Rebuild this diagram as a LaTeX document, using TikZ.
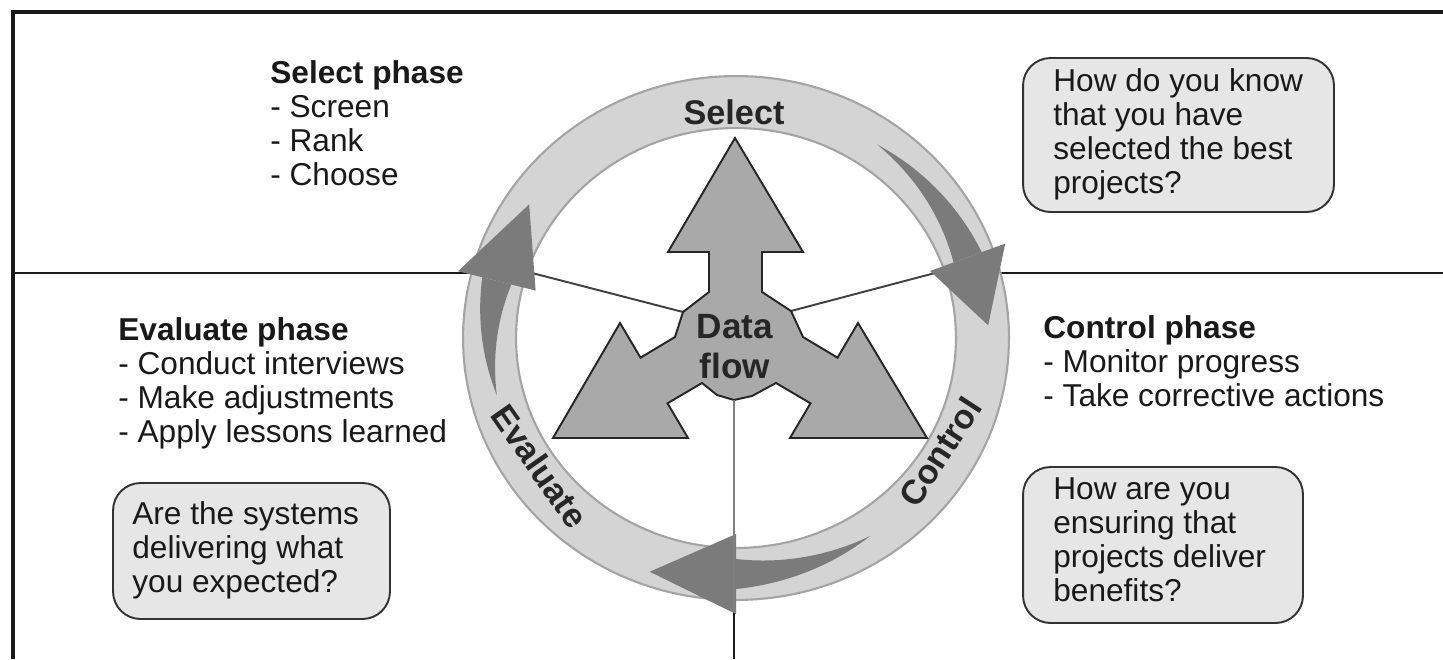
\documentclass[tikz,border=0pt]{standalone}
\usepackage{fontspec}
\setmainfont{Liberation Sans}
\definecolor{ringfill}{HTML}{D4D4D4}
\definecolor{ringedge}{HTML}{A4A4A4}
\definecolor{arrowfill}{HTML}{7B7B7B}
\definecolor{hubfill}{HTML}{A9A9A9}
\definecolor{boxfill}{HTML}{E6E6E6}
\begin{document}
\begin{tikzpicture}[x=0.02cm,y=-0.02cm,
  frameline/.style={line width=1.9pt, black!90},
  divline/.style={line width=1.5pt, black!90},
  spoke/.style={line width=1.1pt, black!75},
  greyline/.style={line width=1.2pt, black!50},
  ringarrow/.style={fill=arrowfill},
  ringlabel/.style={font=\fontsize{19.5}{21}\selectfont\bfseries, text=black!85, inner sep=0},
  hubtext/.style={font=\fontsize{20}{22.7}\selectfont\bfseries, text=black!85, align=center, inner sep=0},
  phasetext/.style={font=\fontsize{18}{19.35}\selectfont, align=left, anchor=north west, inner sep=0, text=black!90},
  qbox/.style={draw=black!80, line width=1.1pt, fill=boxfill, rounded corners=0.55cm, inner sep=0},
  hub/.style={draw=black!85, line width=1.1pt, fill=hubfill, line join=miter}
]
\useasboundingbox (0,0) rectangle (1443,659);

% frame
\coordinate (fbl) at (13,659);
\coordinate (ftl) at (13,12);
\coordinate (ftr) at (1443,12);
\draw[frameline] (fbl) -- (ftl) -- (ftr);

% dividing lines and spokes
\coordinate (hlL) at (13,273);
\coordinate (hlLe) at (532,273);
\coordinate (hlR) at (1443,273);
\coordinate (hlRe) at (935,273);
\coordinate (hubL) at (683,312);
\coordinate (hubR) at (791,311);
\draw[divline] (hlL) -- (hlLe);
\draw[divline] (hlR) -- (hlRe);
\draw[spoke] (hlLe) -- (hubL);
\draw[spoke] (hlRe) -- (hubR);

\coordinate (vtop) at (734,612);
\coordinate (vbot) at (734,659);
\draw[divline] (vtop) -- (vbot);

% ring
\fill[ringfill, even odd rule] (736,338) ellipse [x radius=5.46cm, y radius=5.24cm]
                               (736,338) ellipse [x radius=4.40cm, y radius=4.20cm];
\draw[ringedge, line width=1.2pt] (736,338) ellipse [x radius=5.46cm, y radius=5.24cm];
\draw[ringedge, line width=1.2pt] (736,338) ellipse [x radius=4.40cm, y radius=4.20cm];

% ring arrow: Select -> Control (right)
\fill[ringarrow] plot[domain=55:20, samples=30] ({736+(246.5+15*(55-(\x))/35)*cos(\x)}, {338-(236+15*(55-(\x))/35)*sin(\x)})
  -- plot[domain=20:55, samples=30] ({736+(246.5-15*(55-(\x))/35)*cos(\x)}, {338-(236-15*(55-(\x))/35)*sin(\x)}) -- cycle;
\fill[ringarrow] ({736+286.5*cos(20)}, {338-276*sin(20)}) -- ({736+252.5*cos(3)}, {338-242*sin(3)})
  -- ({736+206.5*cos(20)}, {338-196*sin(20)}) -- cycle;

% ring arrow: Control -> Evaluate (bottom)
\fill[ringarrow] plot[domain=-57:-90, samples=30] ({736+(246.5+15*(-57-(\x))/33)*cos(\x)}, {338-(236+15*(-57-(\x))/33)*sin(\x)})
  -- plot[domain=-90:-57, samples=30] ({736+(246.5-15*(-57-(\x))/33)*cos(\x)}, {338-(236-15*(-57-(\x))/33)*sin(\x)}) -- cycle;
\fill[ringarrow] ({736+286.5*cos(-90)}, {338-276*sin(-90)}) -- ({736+258.5*cos(-109.5)}, {338-248*sin(-109.5)})
  -- ({736+206.5*cos(-90)}, {338-196*sin(-90)}) -- cycle;

% ring arrow: Evaluate -> Select (left)
\fill[ringarrow] plot[domain=194:166, samples=30] ({736+(246.5+15*(194-(\x))/28)*cos(\x)}, {338-(236+15*(194-(\x))/28)*sin(\x)})
  -- plot[domain=166:194, samples=30] ({736+(246.5-15*(194-(\x))/28)*cos(\x)}, {338-(236-15*(194-(\x))/28)*sin(\x)}) -- cycle;
\fill[ringarrow] ({736+286.5*cos(166)}, {338-276*sin(166)}) -- ({736+249.5*cos(146)}, {338-239*sin(146)})
  -- ({736+206.5*cos(166)}, {338-196*sin(166)}) -- cycle;

% central data-flow shape
\draw[hub] (735,138) -- (803,252) -- (762,252) -- (762,292) -- (791,311) -- (803,337) -- (837.5,357.7)
  -- (858,323) -- (927,438) -- (790,438) -- (810.5,403.3) -- (776,383) -- (752,396) -- (734,400)
  -- (717,395) -- (702,383) -- (667.5,403.3) -- (688,438) -- (553,438) -- (620,323) -- (640.5,357.7)
  -- (675,337) -- (683,312) -- (709,292) -- (709,252) -- (668,252) -- cycle;

% grey line from hub to bottom
\coordinate (hubB) at (734,400);
\draw[greyline] (hubB) -- (vtop);

% ring labels
\node[ringlabel] (lsel) at (734,112) {Select};
\node[ringlabel, rotate=-55] (leva) at (540,466) {Evaluate};
\node[ringlabel, rotate=57] (lcon) at (940,452) {Control};
\node[hubtext] (data) at (735,347) {Data\\flow};

% phase texts
\node[phasetext] (selph) at (270,60) {\textbf{Select phase}\\- Screen\\- Rank\\- Choose};
\node[phasetext] (evaph) at (118,317) {\textbf{Evaluate phase}\\- Conduct interviews\\- Make adjustments\\- Apply lessons learned};
\node[phasetext] (conph) at (1043,315) {\textbf{Control phase}\\- Monitor progress\\- Take corrective actions};

% question boxes
\node[qbox, minimum width=6.22cm, minimum height=3.08cm] (qsel) at (1178.5,135) {};
\node[phasetext] (qselt) at (1053,68) {How do you know\\that you have\\selected the best\\projects?};
\node[qbox, minimum width=5.6cm, minimum height=3.12cm] (qcon) at (1163,545) {};
\node[phasetext] (qcont) at (1053,477) {How are you\\ensuring that\\projects deliver\\benefits?};
\node[qbox, minimum width=5.54cm, minimum height=2.72cm] (qeva) at (251.5,551) {};
\node[phasetext] (qevat) at (132,501) {Are the systems\\delivering what\\you expected?};
\end{tikzpicture}
\end{document}
